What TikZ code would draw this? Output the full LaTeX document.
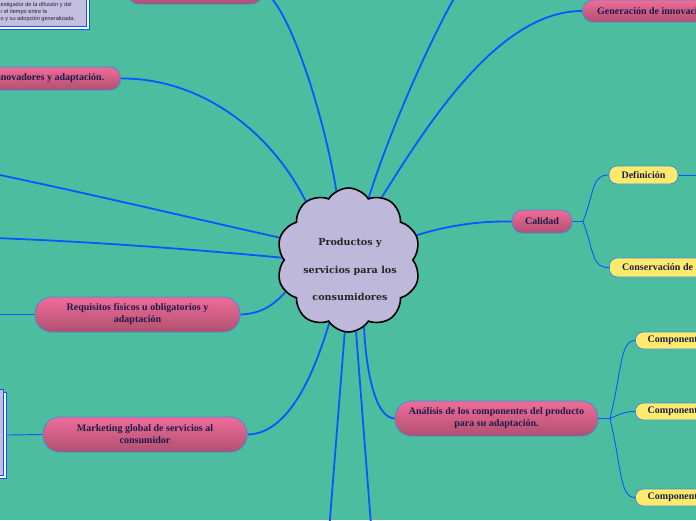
\documentclass[tikz,border=0pt]{standalone}
\usepackage{fontspec}
\setmainfont{Liberation Serif}
\setsansfont{Liberation Sans}
\newfontfamily\cloudfont{DejaVu Serif}
\usetikzlibrary{shapes.symbols}
\definecolor{bg}{HTML}{4DBDA0}
\definecolor{conn}{HTML}{0F55FF}
\definecolor{cloudfill}{HTML}{BEB8DA}
\definecolor{pinktop}{HTML}{F06C99}
\definecolor{pinkbot}{HTML}{B0506F}
\definecolor{nodeborder}{HTML}{3D8FD6}
\definecolor{yel}{HTML}{FFEB6B}
\definecolor{navy}{HTML}{1C1C4C}
\definecolor{boxfill}{HTML}{C4BEE0}
\pgfdeclarelayer{back}
\pgfsetlayers{back,main}
\begin{document}
\begin{tikzpicture}[x=1pt,y=-1pt,
  pinknode/.style={draw=nodeborder, line width=0.8pt, top color=pinktop, bottom color=pinkbot, rounded corners=10.5pt, inner sep=0pt},
  pinktwo/.style={pinknode, rounded corners=16.5pt},
  ntext/.style={text=navy, font=\bfseries\fontsize{10}{12}\selectfont, align=center, inner sep=0pt},
  yelnode/.style={draw=nodeborder, line width=0.8pt, fill=yel, rounded corners=8pt, inner sep=0pt},
  mainline/.style={draw=conn, line width=1.8pt},
  subline/.style={draw=conn, line width=0.9pt},
]
\useasboundingbox (0,0) rectangle (696,520);
\clip (0,0) rectangle (696,520);
\begin{pgfonlayer}{back}
\fill[bg] (0,0) rectangle (696,520);
\end{pgfonlayer}

% central cloud
\node[cloud, cloud puffs=10, cloud puff arc=115, aspect=1, draw=black, line width=1.6pt,
      fill=cloudfill, minimum width=144pt, minimum height=144pt, inner sep=0pt] (cloud) at (348.5,260) {};
\node[align=center, text=black!85, font=\cloudfont\bfseries\fontsize{9.6}{27.5}\selectfont] (ctext) at (350,269.5)
  {Productos y\\servicios para los\\consumidores};

% top-left text box
\node[draw=conn, line width=0.8pt, fill=white, minimum width=120pt, minimum height=60pt, anchor=south east] (tboxo) at (90,30) {};
\node[draw=conn, line width=0.8pt, fill=boxfill, minimum width=120pt, minimum height=60pt, anchor=south east] (tbox) at (86.5,26.5) {};
\node[anchor=north west, align=left, inner sep=0pt, text=black!85, font=\sffamily\fontsize{5.6}{7}\selectfont] (ttext) at (0.5,2.3)
  {estigador de la difusión y del\\r el tiempo entre la\\o y su adopción generalizada.};

% bottom-left box
\node[draw=conn, line width=0.8pt, fill=white, minimum width=40pt, minimum height=86pt, anchor=east] (lboxo) at (7,435) {};
\node[draw=conn, line width=0.8pt, fill=boxfill, minimum width=40pt, minimum height=86pt, anchor=east] (lbox) at (3.5,432.5) {};

% pink nodes
\node[pinknode, minimum width=134pt, minimum height=28pt] (topn) at (195,-10) {};
\node[pinknode, minimum width=181pt, minimum height=23pt, anchor=east] (innov) at (121,78.5) {};
\node[ntext, anchor=east] (innovt) at (104.5,78.5) {Innovadores y adaptación.};
\node[pinktwo, ntext, minimum width=205pt, minimum height=35pt] (req) at (137.5,314.5) {Requisitos físicos u obligatorios y\\adaptación};
\node[pinktwo, ntext, minimum width=204pt, minimum height=35pt] (mkt) at (145,434.5) {Marketing global de servicios al\\consumidor};
\node[pinktwo, ntext, minimum width=203pt, minimum height=35pt] (anal) at (496.5,418.5) {Análisis de los componentes del producto\\para su adaptación.};
\node[pinknode, ntext, minimum width=60pt, minimum height=23pt] (cal) at (542,221.5) {Calidad};
\node[pinknode, minimum width=160pt, minimum height=22pt, anchor=west] (gen) at (582,11) {};
\node[ntext, anchor=west] (gent) at (597,11) {Generación de innovaciones};

% yellow nodes
\node[yelnode, ntext, minimum width=69pt, minimum height=18pt] (def) at (643.5,175) {Definición};
\node[yelnode, minimum width=120pt, minimum height=19pt, anchor=west] (cons) at (609,267.5) {};
\node[ntext, anchor=west] (const) at (622,267.5) {Conservación de la calidad};
\node[yelnode, minimum width=100pt, minimum height=17pt, anchor=west] (c1) at (635,340.5) {};
\node[ntext, anchor=west] (c1t) at (647.5,340.5) {Componentes};
\node[yelnode, minimum width=100pt, minimum height=17pt, anchor=west] (c2) at (635,411.5) {};
\node[ntext, anchor=west] (c2t) at (647.5,411.5) {Componentes};
\node[yelnode, minimum width=100pt, minimum height=17pt, anchor=west] (c3) at (635,497.5) {};
\node[ntext, anchor=west] (c3t) at (647.5,497.5) {Componentes};

% free ends and junctions
\coordinate (eleft1) at (-5,174);
\coordinate (eleft2) at (-5,238);
\coordinate (ereq) at (-5,314.5);
\coordinate (ebot1) at (329.5,525);
\coordinate (ebot2) at (371,525);
\coordinate (etop) at (456,-5);
\coordinate (edef) at (700,175);
\coordinate (jcal) at (583,221.5);
\coordinate (jan) at (610,418.5);

\begin{pgfonlayer}{back}
\path[mainline] (topn.east) .. controls (290,5) and (325,120) .. (cloud.100);
\path[mainline] (innov.east) .. controls (200,78) and (270,130) .. (cloud.126);
\path[mainline] (eleft1) .. controls (100,196) and (200,220) .. (cloud.162);
\path[mainline] (eleft2) .. controls (100,242) and (200,250) .. (cloud.178);
\path[mainline] (req.east) .. controls (265,314) and (278,300) .. (cloud.207);
\path[mainline] (mkt.east) .. controls (290,434) and (315,370) .. (cloud.253);
\path[mainline] (cloud.267) -- (ebot1);
\path[mainline] (cloud.276) -- (ebot2);
\path[mainline] (anal.west) .. controls (375,418) and (366,370) .. (cloud.283);
\path[mainline] (cloud.20) .. controls (450,225) and (480,221) .. (cal.west);
\path[mainline] (cloud.62) .. controls (430,120) and (500,11) .. (gen.west);
\path[mainline] (cloud.72) .. controls (390,130) and (430,40) .. (etop);
\path[subline] (req.west) -- (ereq);
\path[subline] (mkt.west) -- (lboxo.east);
\path[subline] (cal.east) -- (jcal);
\path[subline] (jcal) .. controls (595,190) and (592,175) .. (def.west);
\path[subline] (jcal) .. controls (595,255) and (592,267.5) .. (cons.west);
\path[subline] (def.east) -- (edef);
\path[subline] (anal.east) -- (jan);
\path[subline] (jan) .. controls (622,370) and (620,340.5) .. (c1.west);
\path[subline] (jan) .. controls (620,414) and (625,411.5) .. (c2.west);
\path[subline] (jan) .. controls (622,470) and (620,497.5) .. (c3.west);
\end{pgfonlayer}
\end{tikzpicture}
\end{document}
